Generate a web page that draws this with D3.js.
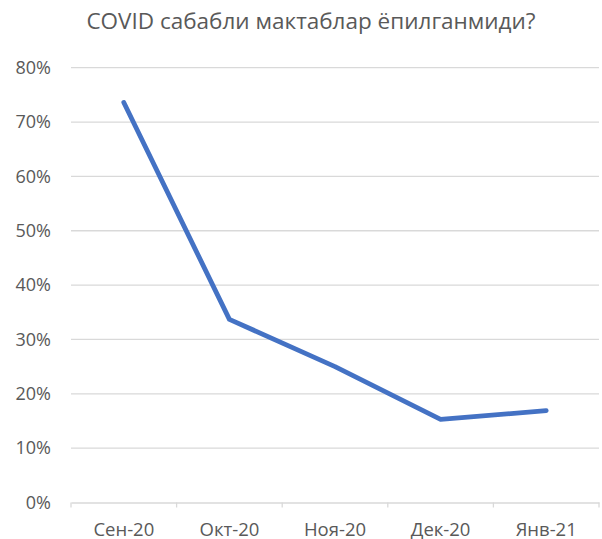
<!DOCTYPE html>
<html><head><meta charset="utf-8">
<script src="https://cdn.jsdelivr.net/npm/d3@7/dist/d3.min.js"></script>
<style>body{margin:0;background:#fff}svg{display:block}text{font-family:"Open Sans",sans-serif;fill:#595959}</style>
</head><body>
<script>
const categories = ["Сен-20","Окт-20","Ноя-20","Дек-20","Янв-21"];
const values = [0.736, 0.337, 0.250, 0.153, 0.169];
const yTicks = [0,0.1,0.2,0.3,0.4,0.5,0.6,0.7,0.8];
const title = "COVID сабабли мактаблар ёпилганмиди?";

const W=602,H=539;
const m={left:71,right:3,top:67.7,bottom:36.5};
const svg=d3.select("body").append("svg").attr("width",W).attr("height",H);
const x=d3.scaleBand().domain(categories).range([m.left,W-m.right]);
const y=d3.scaleLinear().domain([0,0.8]).range([H-m.bottom,m.top]);

svg.append("g").selectAll("line").data(yTicks.filter(d=>d>0)).join("line")
 .attr("x1",m.left).attr("x2",W-m.right).attr("y1",d=>y(d)).attr("y2",d=>y(d))
 .attr("stroke","#d9d9d9").attr("stroke-width",1.3);

const ya=svg.append("g").attr("transform",`translate(${m.left},0)`)
 .call(d3.axisLeft(y).tickValues(yTicks).tickFormat(d3.format(".0%")).tickSize(0).tickPadding(20));
ya.select(".domain").remove();
ya.selectAll("text").attr("font-size",18).style("font-family","'Open Sans',sans-serif").attr("fill","#595959");

const xa=svg.append("g").attr("transform",`translate(0,${y(0)})`)
 .call(d3.axisBottom(x).tickSize(0));
xa.select(".domain").attr("stroke","#d9d9d9").attr("stroke-width",1.3);
xa.selectAll("text").attr("font-size",18.5).attr("y",33).attr("dy",0).style("font-family","'Open Sans',sans-serif").attr("fill","#595959");
const bounds=categories.map(c=>x(c)).concat([x(categories[categories.length-1])+x.bandwidth()]);
svg.append("g").selectAll("line").data(bounds).join("line")
 .attr("x1",d=>d).attr("x2",d=>d).attr("y1",y(0)).attr("y2",y(0)+5)
 .attr("stroke","#d9d9d9").attr("stroke-width",1.3);

const line=d3.line().x((d,i)=>x(categories[i])+x.bandwidth()/2).y(d=>y(d));
svg.append("path").datum(values).attr("d",line).attr("fill","none")
 .attr("stroke","#4472c4").attr("stroke-width",4.8).attr("stroke-linecap","round").attr("stroke-linejoin","round");

svg.append("text").attr("x",311).attr("y",29).attr("text-anchor","middle")
 .attr("font-size",22.5).text(title);
</script>
</body></html>
